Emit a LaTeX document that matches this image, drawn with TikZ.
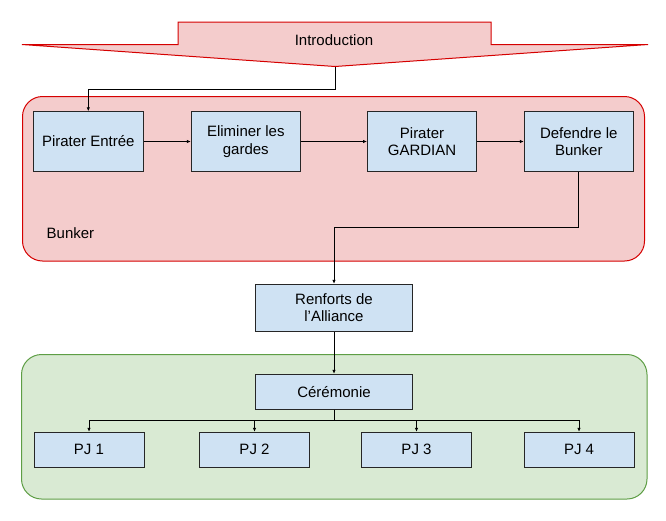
\documentclass[tikz,border=0pt]{standalone}
\usepackage{fontspec}
\setmainfont{Liberation Sans}
\usetikzlibrary{positioning,arrows.meta}
\definecolor{rougefond}{HTML}{F4CCCC}
\definecolor{rougebord}{HTML}{D50000}
\definecolor{vertfond}{HTML}{D9EAD3}
\definecolor{vertbord}{HTML}{5E9E45}
\definecolor{bleufond}{HTML}{CFE2F3}
\begin{document}
\begin{tikzpicture}[x=1pt,y=-1pt,
	every node/.style={font=\fontsize{15}{17.6}\selectfont},
	etape/.style={draw=black!85, fill=bleufond, line width=1pt, align=center, inner sep=0pt, minimum width=110pt, minimum height=59.5pt},
	petite/.style={etape, minimum height=35pt},
	lien/.style={line width=0.9pt, -{Latex[length=4pt,width=3.5pt]}},
	zone/.style={line width=1pt, rounded corners=20pt}]
	\useasboundingbox (0,0) rectangle (666,520);
	% introduction
	\draw [rougebord, fill=rougefond, line width=1pt] (178,22) -- (491,22) -- (491,44.5) -- (648,44.5) -- (335,66.5) -- (22,44.5) -- (178,44.5) -- cycle;
	\node (intro) at (334,40) {Introduction};
	\coordinate (introtip) at (335,66.5);
	% zones
	\draw [zone, draw=rougebord, fill=rougefond] (22.5,96.5) rectangle (644.5,261);
	\node [anchor=west, inner sep=0pt] (bunker) at (46.5,233) {Bunker};
	\draw [zone, draw=vertbord, fill=vertfond] (21.5,354.5) rectangle (647,499);
	% etapes du bunker
	\node [etape] (entree) at (88.3,141.5) {Pirater Entrée};
	\node [etape, minimum width=109pt] (gardes) at (245.8,141.5) {Eliminer les\\gardes};
	\node [etape, minimum width=109pt] (gardian) at (422,141.5) {Pirater\\GARDIAN};
	\node [etape, minimum width=109pt] (defendre) at (578.8,141.5) {Defendre le\\Bunker};
	% renforts et ceremonie
	\node [etape, minimum width=157pt, minimum height=47pt] (renforts) at (334,307.8) {Renforts de\\l’Alliance};
	\node [petite, minimum width=157pt] (ceremonie) at (334,391.8) {Cérémonie};
	\node [petite] (pj1) at (89,449.8) {PJ 1};
	\node [petite] (pj2) at (254.5,449.8) {PJ 2};
	\node [petite] (pj3) at (416.5,449.8) {PJ 3};
	\node [petite] (pj4) at (579,449.8) {PJ 4};
	% liens
	\draw [lien] (introtip) -- ++(0,23) -| (entree);
	\draw [lien] (entree) -- (gardes);
	\draw [lien] (gardes) -- (gardian);
	\draw [lien] (gardian) -- (defendre);
	\draw [lien] (defendre.south) -- ++(0,55.7) -| (renforts);
	\draw [lien] (renforts) -- (ceremonie);
	\foreach \p in {pj1,pj2,pj3,pj4}
		\draw [lien] (ceremonie.south) -- ++(0,10.7) -| (\p);
\end{tikzpicture}
\end{document}
